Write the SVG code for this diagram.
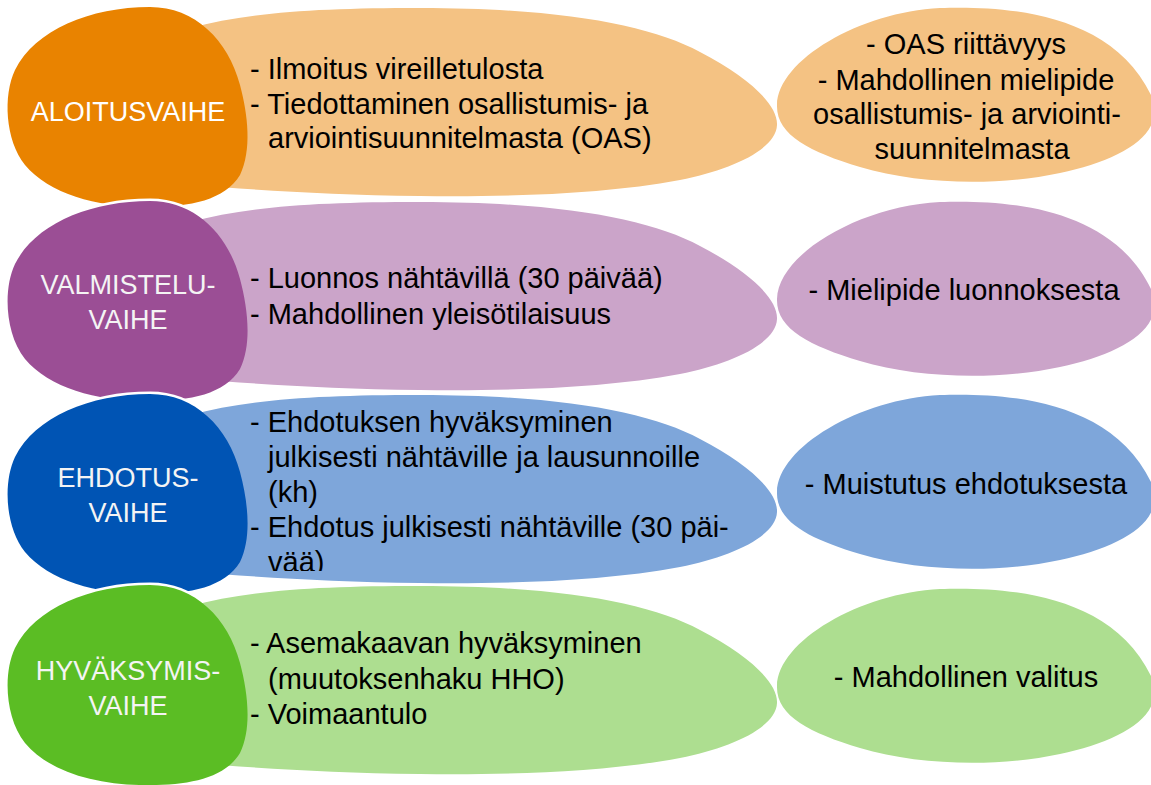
<svg xmlns="http://www.w3.org/2000/svg" xmlns:xlink="http://www.w3.org/1999/xlink" width="1151" height="785" viewBox="0 0 1151 785">
  <style>
    .body { font-family: "Liberation Sans", Arial, sans-serif; font-size: 29px; fill: #000; }
    .side { font-family: "Liberation Sans", Arial, sans-serif; font-size: 29px; fill: #000; text-anchor: middle; }
    .label { font-family: "Liberation Sans", Arial, sans-serif; font-size: 27px; fill: #f4f4f4; text-anchor: middle; }
    .gap { fill: #fff; stroke: #fff; stroke-width: 5; }
  </style>
  <defs>
    <path id="dark" d="M 150,7 C 195,7 228,40 240,85 C 248,115 252,150 240,175 C 225,200 190,207 150,207 C 100,208 50,195 25,165 C 5,140 3,95 15,70 C 35,30 90,7 150,7 Z"/>
    <path id="tail" d="M 190,28 C 250,12 320,8 420,8 C 560,8 650,25 700,52 C 750,78 778,105 777,125 C 776,150 730,170 680,180 C 600,195 500,197 420,196 C 330,195 260,190 190,185 Z"/>
    <path id="sideblob" d="M 777,105 C 778,60 860,12 940,8 C 1000,6 1110,10 1151,95 C 1168,135 1120,160 1060,173 C 1000,186 920,185 860,167 C 810,152 776,135 777,105 Z"/>
    <clipPath id="clip3">
      <rect x="190" y="395" width="600" height="176"/>
    </clipPath>
  </defs>
  <rect width="1151" height="785" fill="#fff"/>

  <!-- Row 1 -->
  <g id="row1-actions">
    <use xlink:href="#tail" href="#tail" fill="#F4C283"/>
    <text class="body" x="250" y="79">- Ilmoitus vireilletulosta</text>
    <text class="body" x="250" y="113.5">- Tiedottaminen osallistumis- ja</text>
    <text class="body" x="268" y="148">arviointisuunnitelmasta (OAS)</text>
  </g>
  <g id="row1-feedback">
    <use xlink:href="#sideblob" href="#sideblob" fill="#F4C283"/>
    <text class="side" x="966" y="54">- OAS riittävyys</text>
    <text class="side" x="966" y="90">- Mahdollinen mielipide</text>
    <text class="side" x="967" y="124">osallistumis- ja arviointi-</text>
    <text class="side" x="972" y="159">suunnitelmasta</text>
  </g>
  <g id="row1-phase">
    <use xlink:href="#dark" href="#dark" fill="#E98300"/>
    <text class="label" x="128" y="121" style="fill:#fff">ALOITUSVAIHE</text>
  </g>

  <!-- Row 2 -->
  <g id="row2-actions">
    <use xlink:href="#dark" href="#dark" class="gap" transform="translate(0,194)"/>
    <use xlink:href="#tail" href="#tail" fill="#CBA4C9" transform="translate(0,194)"/>
    <text class="body" x="250" y="288">- Luonnos nähtävillä (30 päivää)</text>
    <text class="body" x="250" y="324">- Mahdollinen yleisötilaisuus</text>
  </g>
  <g id="row2-feedback">
    <use xlink:href="#sideblob" href="#sideblob" fill="#CBA4C9" transform="translate(0,194)"/>
    <text class="side" x="964" y="300">- Mielipide luonnoksesta</text>
  </g>
  <g id="row2-phase">
    <use xlink:href="#dark" href="#dark" fill="#9B4E95" transform="translate(0,194)"/>
    <text class="label" x="128" y="294">VALMISTELU-</text>
    <text class="label" x="128" y="329">VAIHE</text>
  </g>

  <!-- Row 3 -->
  <g id="row3-actions">
    <use xlink:href="#dark" href="#dark" class="gap" transform="translate(0,387)"/>
    <use xlink:href="#tail" href="#tail" fill="#7EA6DA" transform="translate(0,387)"/>
    <g clip-path="url(#clip3)">
      <text class="body" x="250" y="432">- Ehdotuksen hyväksyminen</text>
      <text class="body" x="268" y="467">julkisesti nähtäville ja lausunnoille</text>
      <text class="body" x="268" y="502">(kh)</text>
      <text class="body" x="250" y="537">- Ehdotus julkisesti nähtäville (30 päi-</text>
      <text class="body" x="268" y="572">vää)</text>
    </g>
  </g>
  <g id="row3-feedback">
    <use xlink:href="#sideblob" href="#sideblob" fill="#7EA6DA" transform="translate(0,387)"/>
    <text class="side" x="966" y="494">- Muistutus ehdotuksesta</text>
  </g>
  <g id="row3-phase">
    <use xlink:href="#dark" href="#dark" fill="#0054B4" transform="translate(0,387)"/>
    <text class="label" x="128" y="487">EHDOTUS-</text>
    <text class="label" x="128" y="522">VAIHE</text>
  </g>

  <!-- Row 4 -->
  <g id="row4-actions">
    <use xlink:href="#dark" href="#dark" class="gap" transform="translate(0,578)"/>
    <use xlink:href="#tail" href="#tail" fill="#ADDE90" transform="translate(0,578)"/>
    <text class="body" x="250" y="653">- Asemakaavan hyväksyminen</text>
    <text class="body" x="268" y="689">(muutoksenhaku HHO)</text>
    <text class="body" x="250" y="724">- Voimaantulo</text>
  </g>
  <g id="row4-feedback">
    <use xlink:href="#sideblob" href="#sideblob" fill="#ADDE90" transform="translate(0,581)"/>
    <text class="side" x="966" y="687">- Mahdollinen valitus</text>
  </g>
  <g id="row4-phase">
    <use xlink:href="#dark" href="#dark" fill="#5BBD24" transform="translate(0,578)"/>
    <text class="label" x="128" y="680">HYVÄKSYMIS-</text>
    <text class="label" x="128" y="715">VAIHE</text>
  </g>

  <g id="connectors"/>
</svg>
